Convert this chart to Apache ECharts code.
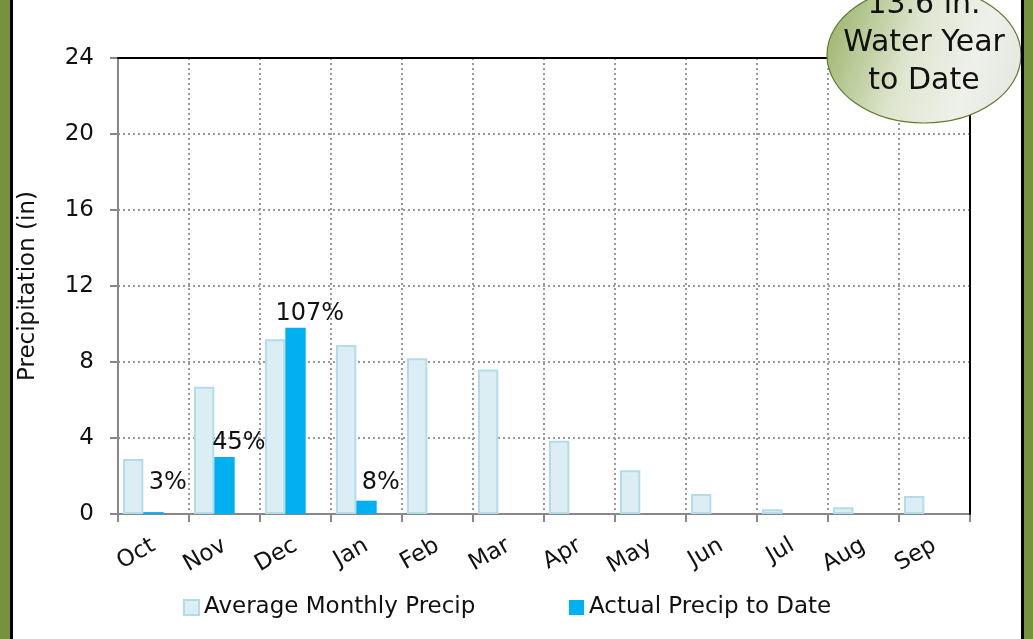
<!DOCTYPE html>
<html>
<head>
<meta charset="utf-8">
<script src="https://cdn.jsdelivr.net/npm/echarts@6/dist/echarts.min.js"></script>
<style>html,body{margin:0;padding:0;background:#fff;}#c{width:1033px;height:639px;}</style>
</head>
<body>
<div id="c"></div>
<script>
const months = ['Oct','Nov','Dec','Jan','Feb','Mar','Apr','May','Jun','Jul','Aug','Sep'];
const averagePrecip = [2.9, 6.7, 9.2, 8.9, 8.2, 7.6, 3.85, 2.3, 1.05, 0.25, 0.35, 0.95];
const actualPrecip = [0.1, 3.0, 9.8, 0.7, null, null, null, null, null, null, null, null];
const yTicks = [0, 4, 8, 12, 16, 20, 24];

const FONT = 'DejaVu Sans';
const total = actualPrecip.reduce((s, v) => s + (v || 0), 0);
const pctLabels = actualPrecip.map((v, i) => v == null ? null : Math.round(v / averagePrecip[i] * 100) + '%');
const labelAnchor = actualPrecip.map(v => v == null ? null : Math.max(v, 0.9));

const chart = echarts.init(document.getElementById('c'), null, {renderer: 'canvas'});
const legendText = {fontFamily: FONT, fontSize: 23, color: '#111'};
chart.setOption({
  animation: false,
  backgroundColor: '#fff',
  textStyle: {fontFamily: FONT},
  grid: {left: 118, right: 63, top: 58, bottom: 125, show: false},
  legend: [
    {bottom: 15, left: 178, itemWidth: 15, itemHeight: 15, itemGap: 6, textStyle: legendText,
      data: [{name: 'Average Monthly Precip', icon: 'rect'}]},
    {bottom: 15, left: 564, itemWidth: 15, itemHeight: 15, itemGap: 6, textStyle: legendText,
      data: [{name: 'Actual Precip to Date', icon: 'rect'}]}
  ],
  xAxis: [{
    type: 'category', data: months, boundaryGap: true,
    axisLine: {lineStyle: {color: '#888', width: 2}},
    axisTick: {show: true, length: 8, lineStyle: {color: '#888', width: 2}},
    axisLabel: {rotate: 30, fontFamily: FONT, fontSize: 23, color: '#111', margin: 30, interval: 0},
    splitLine: {show: true, interval: 0, lineStyle: {color: '#999', type: [2, 3], width: 2}}
  }, {
    type: 'category', data: months, position: 'top', z: 5,
    axisLine: {show: true, onZero: false, lineStyle: {color: '#000', width: 2}},
    axisTick: {show: false}, axisLabel: {show: false}, splitLine: {show: false}
  }],
  yAxis: [{
    type: 'value', min: 0, max: 24, interval: 4,
    name: 'Precipitation (in)', nameLocation: 'middle', nameGap: 78, nameRotate: 90,
    nameTextStyle: {fontFamily: FONT, fontSize: 23, color: '#111'},
    axisLine: {show: true, lineStyle: {color: '#888', width: 2}},
    axisTick: {show: true, length: 8, lineStyle: {color: '#888', width: 2}},
    axisLabel: {fontFamily: FONT, fontSize: 23, color: '#111', margin: 24,
      formatter: v => yTicks.includes(v) ? String(v) : ''},
    splitLine: {show: true, lineStyle: {color: '#999', type: [2, 3], width: 2}}
  }, {
    type: 'value', min: 0, max: 24, interval: 4, position: 'right', z: 5,
    axisLine: {show: true, onZero: false, lineStyle: {color: '#000', width: 2}},
    axisTick: {show: false}, axisLabel: {show: false}, splitLine: {show: false}
  }],
  series: [
    {
      name: 'Average Monthly Precip', type: 'bar', data: averagePrecip,
      barGap: '0%', barCategoryGap: '14%',
      itemStyle: {color: '#dbeef4', borderColor: '#b4dce8', borderWidth: 2},
      z: 3
    },
    {
      name: 'Actual Precip to Date', type: 'bar', data: actualPrecip,
      barGap: '0%', barCategoryGap: '14%',
      itemStyle: {color: '#00b0f0'},
      z: 3
    },
    {
      name: 'pct', type: 'bar', data: labelAnchor,
      barGap: '0%', barCategoryGap: '14%',
      itemStyle: {color: 'transparent'},
      label: {show: true, position: 'top', distance: 2, offset: [-6, 0],
        fontFamily: FONT, fontSize: 24, color: '#111',
        formatter: p => pctLabels[p.dataIndex] || ''},
      legendHoverLink: false, silent: true, z: 4
    }
  ],
  graphic: [
    {type: 'rect', shape: {x: 0, y: 0, width: 10, height: 639}, style: {fill: '#76923c'}, z: 100},
    {type: 'rect', shape: {x: 10, y: 0, width: 3, height: 639}, style: {fill: '#000'}, z: 100},
    {type: 'rect', shape: {x: 1021, y: 0, width: 3, height: 639}, style: {fill: '#000'}, z: 100},
    {type: 'rect', shape: {x: 1024, y: 0, width: 9, height: 639}, style: {fill: '#76923c'}, z: 100},
    {type: 'ellipse', shape: {cx: 924, cy: 55, rx: 97, ry: 68},
      style: {
        fill: new echarts.graphic.LinearGradient(0, 0.2, 1, 0.7, [
          {offset: 0, color: '#9bb36a'},
          {offset: 0.45, color: '#dfe6d0'},
          {offset: 0.75, color: '#eef0ea'},
          {offset: 1, color: '#e4e7e0'}
        ]),
        stroke: '#5f7a2a', lineWidth: 1.2
      }, z: 90},
    {type: 'text', x: 924, y: 43, z: 95,
      style: {text: total.toFixed(1) + ' in.\nWater Year\nto Date', fontFamily: FONT, fontSize: 30,
        lineHeight: 38, fill: '#111', align: 'center', verticalAlign: 'middle'}}
  ]
});
</script>
</body>
</html>
